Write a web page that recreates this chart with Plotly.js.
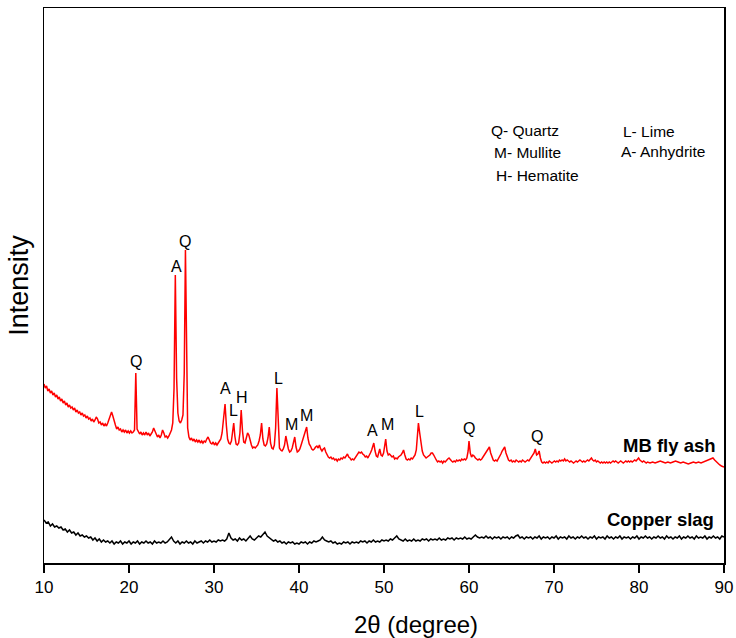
<!DOCTYPE html>
<html>
<head>
<meta charset="utf-8">
<script src="https://cdn.plot.ly/plotly-3.0.1.min.js"></script>
<style>html,body{margin:0;padding:0;background:#fff;}#chart{width:736px;height:638px;}</style>
</head>
<body>
<div id="chart"></div>
<script>
// MB fly ash pattern (2theta in degrees, intensity in arbitrary units)
var ashX = [
10.0,10.15,10.3,10.45,10.6,10.75,10.9,11.05,11.2,11.35,
11.5,11.65,11.8,11.95,12.1,12.25,12.4,12.55,12.7,12.85,
13.0,13.15,13.3,13.45,13.6,13.75,13.9,14.05,14.2,14.35,
14.5,14.65,14.8,14.95,15.1,15.25,15.4,15.55,15.7,15.85,
16.0,16.15,16.3,16.45,16.6,16.75,16.9,17.05,17.2,17.35,
17.5,17.65,17.8,17.95,18.1,18.25,18.4,18.55,18.7,18.85,
19.0,19.15,19.3,19.45,19.6,19.75,19.9,20.05,20.2,20.35,
20.5,20.65,20.8,20.95,21.1,21.25,21.4,21.55,21.7,21.85,
22.0,22.15,22.3,22.45,22.6,22.75,22.9,23.05,23.2,23.35,
23.5,23.65,23.8,23.95,24.1,24.25,24.4,24.55,24.7,24.85,
25.0,25.15,25.3,25.45,25.6,25.75,25.9,26.05,26.2,26.35,
26.5,26.64,26.78,26.9,27.05,27.2,27.35,27.5,27.65,27.8,
27.95,28.1,28.25,28.4,28.55,28.7,28.85,29.0,29.15,29.3,
29.45,29.6,29.75,29.9,30.05,30.2,30.35,30.5,30.65,30.8,
30.95,31.1,31.3,31.45,31.6,31.75,31.9,32.05,32.2,32.32,
32.45,32.6,32.75,32.9,33.05,33.2,33.35,33.5,33.65,33.8,
33.95,34.1,34.25,34.4,34.55,34.7,34.85,35.0,35.15,35.3,
35.45,35.6,35.75,35.9,36.05,36.2,36.35,36.5,36.65,36.8,
36.95,37.1,37.25,37.4,37.55,37.7,37.85,38.0,38.15,38.3,
38.45,38.6,38.75,38.9,39.05,39.2,39.35,39.5,39.65,39.8,
39.95,40.1,40.25,40.4,40.55,40.7,40.9,41.05,41.2,41.35,
41.5,41.65,41.8,41.95,42.1,42.25,42.4,42.55,42.7,42.85,
43.0,43.15,43.3,43.45,43.6,43.75,43.9,44.05,44.2,44.35,
44.5,44.65,44.8,44.95,45.1,45.25,45.4,45.55,45.7,45.85,
46.0,46.15,46.3,46.45,46.6,46.75,46.9,47.05,47.2,47.35,
47.5,47.65,47.8,47.95,48.1,48.25,48.4,48.55,48.7,48.8,
48.95,49.1,49.25,49.4,49.5,49.65,49.8,49.95,50.1,50.2,
50.35,50.5,50.65,50.8,50.95,51.1,51.25,51.4,51.55,51.7,
51.85,52.0,52.15,52.3,52.45,52.6,52.75,52.9,53.05,53.2,
53.35,53.5,53.65,53.8,53.95,54.05,54.2,54.35,54.5,54.65,
54.8,54.95,55.1,55.25,55.4,55.55,55.7,55.85,56.0,56.15,
56.3,56.45,56.6,56.75,56.9,57.05,57.2,57.35,57.5,57.65,
57.8,57.95,58.1,58.25,58.4,58.55,58.7,58.85,59.0,59.15,
59.3,59.45,59.6,59.75,59.9,60.0,60.15,60.3,60.45,60.6,
60.75,60.9,61.05,61.2,61.35,61.5,61.65,61.8,61.95,62.1,
62.25,62.4,62.55,62.7,62.85,63.0,63.15,63.3,63.45,63.6,
63.75,63.9,64.05,64.2,64.35,64.5,64.65,64.8,64.95,65.1,
65.25,65.4,65.55,65.7,65.85,66.0,66.15,66.3,66.45,66.6,
66.75,66.9,67.05,67.2,67.35,67.5,67.65,67.8,67.95,68.1,
68.25,68.4,68.55,68.7,68.85,69.0,69.15,69.3,69.45,69.6,
69.75,69.9,70.05,70.2,70.35,70.5,70.65,70.8,70.95,71.1,
71.25,71.4,71.55,71.7,71.85,72.0,72.15,72.3,72.45,72.6,
72.75,72.9,73.05,73.2,73.35,73.5,73.65,73.8,73.95,74.1,
74.25,74.4,74.55,74.7,74.85,75.0,75.15,75.3,75.45,75.6,
75.75,75.9,76.05,76.2,76.35,76.5,76.65,76.8,76.95,77.1,
77.25,77.4,77.55,77.7,77.85,78.0,78.15,78.3,78.45,78.6,
78.75,78.9,79.05,79.2,79.35,79.5,79.65,79.8,79.95,80.1,
80.25,80.4,80.55,80.7,80.85,81.0,81.3,81.6,81.9,82.2,
82.5,82.8,83.1,83.4,83.7,84.0,84.3,84.6,84.9,85.2,
85.5,85.8,86.1,86.4,86.7,87.0,87.3,87.6,87.9,88.2,
88.5,88.7,88.9,89.1,89.3,89.5,89.7,90.0
];
var ashY = [
179,175,177,172,174,170,172,168,170,166,
168,164,166,162,164,160,162,158,160,156,
158,155,156,153,155,151,153,150,151,148,
150,147,148,145,147,144,145,142,144,141,
143,146,144,140,141,138,140,137,139,137,
140,144,148,151,147,141,138,134,136,133,
134,131,133,131,133,130,132,130,132,130,
131,133,190,134,131,129,131,128,130,128,
131,128,130,127,129,131,135,132,128,126,
128,125,128,133,130,126,127,125,127,130,
133,140,175,288,185,150,142,140,143,148,
190,313,180,135,126,123,125,122,124,121,
123,121,123,120,122,120,122,121,124,126,
123,120,119,121,118,120,118,120,122,124,
130,140,159,138,124,120,119,122,130,140,
127,119,118,120,130,153,132,121,120,124,
130,128,122,118,115,116,115,117,118,122,
128,140,124,118,117,119,125,136,120,115,
114,118,135,175,135,115,113,112,114,118,
127,120,114,111,112,115,120,126,116,111,
112,114,118,122,126,130,136,125,119,117,
114,113,114,116,117,115,118,114,112,114,
115,111,108,106,105,106,104,105,103,104,
102,104,103,105,104,106,105,107,109,106,
105,103,104,103,105,107,109,111,110,111,
109,108,106,107,105,107,110,113,119,120,
112,107,106,110,114,108,107,110,118,124,
112,108,109,107,106,107,104,105,104,106,
107,108,110,113,108,104,103,104,103,105,
104,106,108,113,128,140,130,118,112,108,
106,105,106,107,108,110,110,108,105,103,
101,102,101,102,100,102,101,103,104,105,
103,102,101,102,101,103,102,103,102,104,
103,104,103,105,112,122,110,106,108,107,
105,104,103,104,103,104,106,107,110,112,
114,116,110,105,103,102,103,102,104,106,
109,112,114,116,110,105,103,102,103,101,
102,101,103,102,101,102,101,103,102,101,
102,103,102,104,105,107,110,114,108,109,
112,105,101,100,101,100,101,100,102,101,
100,101,102,101,102,101,103,102,103,102,
104,102,103,102,101,102,101,100,101,102,
101,102,103,102,101,102,101,102,103,102,
104,105,103,102,103,101,102,101,100,101,
100,101,100,101,100,101,100,101,102,101,
102,101,100,101,102,101,100,101,102,101,
102,101,102,101,102,103,102,104,105,103,
102,101,102,101,100,101,100,101,100,101,
102,101,100,101,100,101,102,101,100,101,
100,99,100,101,100,101,100,101,102,103,
104,105,103,101,99,98,97,96
];
// Copper slag pattern
var slagX = [
10,10.25,10.5,10.75,11,11.25,11.5,11.75,12,12.25,
12.5,12.75,13,13.25,13.5,13.75,14,14.25,14.5,14.75,
15,15.25,15.5,15.75,16,16.25,16.5,16.75,17,17.25,
17.5,17.75,18,18.25,18.5,18.75,19,19.25,19.5,19.75,
20,20.25,20.5,20.75,21,21.25,21.5,21.75,22,22.25,
22.5,22.75,23,23.25,23.5,23.75,24,24.25,24.5,24.75,
25,25.25,25.5,25.75,26,26.25,26.5,26.75,27,27.25,
27.5,27.75,28,28.25,28.5,28.75,29,29.25,29.5,29.75,
30,30.25,30.5,30.75,31,31.25,31.5,31.75,32,32.25,
32.5,32.75,33,33.25,33.5,33.75,34,34.25,34.5,34.75,
35,35.25,35.5,35.75,36,36.25,36.5,36.75,37,37.25,
37.5,37.75,38,38.25,38.5,38.75,39,39.25,39.5,39.75,
40,40.25,40.5,40.75,41,41.25,41.5,41.75,42,42.25,
42.5,42.75,43,43.25,43.5,43.75,44,44.25,44.5,44.75,
45,45.25,45.5,45.75,46,46.25,46.5,46.75,47,47.25,
47.5,47.75,48,48.25,48.5,48.75,49,49.25,49.5,49.75,
50,50.25,50.5,50.75,51,51.25,51.5,51.75,52,52.25,
52.5,52.75,53,53.25,53.5,53.75,54,54.25,54.5,54.75,
55,55.25,55.5,55.75,56,56.25,56.5,56.75,57,57.25,
57.5,57.75,58,58.25,58.5,58.75,59,59.25,59.5,59.75,
60,60.25,60.5,60.75,61,61.25,61.5,61.75,62,62.25,
62.5,62.75,63,63.25,63.5,63.75,64,64.25,64.5,64.75,
65,65.25,65.5,65.75,66,66.25,66.5,66.75,67,67.25,
67.5,67.75,68,68.25,68.5,68.75,69,69.25,69.5,69.75,
70,70.25,70.5,70.75,71,71.25,71.5,71.75,72,72.25,
72.5,72.75,73,73.25,73.5,73.75,74,74.25,74.5,74.75,
75,75.25,75.5,75.75,76,76.25,76.5,76.75,77,77.25,
77.5,77.75,78,78.25,78.5,78.75,79,79.25,79.5,79.75,
80,80.25,80.5,80.75,81,81.25,81.5,81.75,82,82.25,
82.5,82.75,83,83.25,83.5,83.75,84,84.25,84.5,84.75,
85,85.25,85.5,85.75,86,86.25,86.5,86.75,87,87.25,
87.5,87.75,88,88.25,88.5,88.75,89,89.25,89.5,89.75,
90
];
var slagY = [
43,40,41,37,39,36,37,35,36,33,
34,31,33,30,31,28,30,27,28,26,
27,25,26,23,25,22,24,21,23,21,
22,20,22,19,21,20,22,19,21,20,
22,19,21,20,22,19,21,20,22,20,
21,19,22,20,21,20,22,20,21,23,
26,22,20,22,19,21,20,22,20,21,
19,22,20,21,22,20,22,21,23,21,
22,21,23,22,23,22,24,30,25,23,
24,22,25,23,24,22,25,27,24,23,
25,27,26,29,31,27,25,24,22,23,
21,22,20,21,19,21,20,21,19,20,
19,21,20,21,19,21,20,22,21,22,
23,26,23,22,21,22,20,21,19,20,
19,21,20,21,19,21,20,21,20,22,
21,22,20,22,21,23,21,22,21,23,
22,23,22,24,23,25,27,24,23,22,
24,22,23,22,24,22,23,22,24,23,
24,22,24,23,24,23,25,23,24,23,
25,24,25,23,25,24,25,24,26,24,
25,24,26,28,26,25,26,25,27,25,
26,24,26,25,26,24,26,25,26,24,
26,25,27,28,25,26,24,26,25,26,
24,26,25,27,24,26,25,26,24,26,
25,27,24,26,25,26,24,27,25,26,
24,26,25,27,25,26,24,26,25,27,
24,26,25,26,24,27,25,26,24,26,
25,27,24,26,25,26,24,26,25,27,
24,26,25,27,25,26,24,26,25,27,
25,26,24,27,25,26,24,26,25,27,
24,26,25,27,25,26,24,27,25,26,
25,27,24,26,25,27,25,26,24,27,
26
];
// Peak labels: phase letter, 2theta position, label height
var peakText = ["Q","A","Q","A","L","H","L","M","M","A","M","L","Q","Q"];
var peakPos  = [20.85,25.55,26.6,31.4,32.25,33.3,37.55,39.1,40.85,48.65,50.4,54.15,60.05,67.95];
var peakLab  = [202,297,322,175,153,166,185,139,148,133,139,152,135,127];
// Phase key
var keyText = ["Q- Quartz","M- Mullite","H- Hematite","L- Lime","A- Anhydrite"];
var keyX = [0.655,0.659,0.662,0.849,0.846];
var keyY = [0.780,0.739,0.699,0.778,0.742];
// Series names and axis titles
var seriesNames = ["MB fly ash","Copper slag"];
var xTitle = "2θ (degree)";
var yTitle = "Intensity";

var FONT = "Arial, 'Liberation Sans', Helvetica, sans-serif";

var traces = [
  {x: ashX, y: ashY, type: "scatter", mode: "lines", name: seriesNames[0],
   line: {color: "#ff0000", width: 1.5}},
  {x: slagX, y: slagY, type: "scatter", mode: "lines", name: seriesNames[1],
   line: {color: "#000000", width: 1.5}}
];

var ann = [];
for (var i = 0; i < peakText.length; i++) {
  ann.push({x: peakPos[i], y: peakLab[i], xref: "x", yref: "y", text: peakText[i],
    showarrow: false, xanchor: "center", yanchor: "middle",
    font: {family: FONT, size: 16, color: "#000"}});
}
for (var j = 0; j < keyText.length; j++) {
  ann.push({x: keyX[j], y: keyY[j], xref: "paper", yref: "paper", text: keyText[j],
    showarrow: false, xanchor: "left", yanchor: "middle",
    font: {family: FONT, size: 15.5, color: "#000"}});
}
ann.push({x: 0.991, y: 0.211, xref: "paper", yref: "paper", text: "<b>" + seriesNames[0] + "</b>",
  showarrow: false, xanchor: "right", yanchor: "middle", font: {family: FONT, size: 18.5, color: "#000"}});
ann.push({x: 0.988, y: 0.0775, xref: "paper", yref: "paper", text: "<b>" + seriesNames[1] + "</b>",
  showarrow: false, xanchor: "right", yanchor: "middle", font: {family: FONT, size: 18.5, color: "#000"}});
// x axis title (placed off-centre, as in the original figure)
ann.push({x: 0.547, y: -0.11, xref: "paper", yref: "paper", text: xTitle,
  showarrow: false, xanchor: "center", yanchor: "middle", font: {family: FONT, size: 24, color: "#000"}});

var layout = {
  width: 736, height: 638,
  margin: {l: 44, r: 12, t: 8, b: 75},
  paper_bgcolor: "#fff", plot_bgcolor: "#fff",
  showlegend: false,
  font: {family: FONT, color: "#000"},
  xaxis: {
    range: [10, 90], dtick: 10, tick0: 10,
    showgrid: false, zeroline: false,
    showline: true, linecolor: "#000", linewidth: 1.5, mirror: true,
    ticks: "outside", ticklen: 8, tickwidth: 1.5, tickcolor: "#000",
    tickfont: {family: FONT, size: 17, color: "#000"}
  },
  yaxis: {
    range: [0, 555],
    showgrid: false, zeroline: false, showticklabels: false, ticks: "",
    showline: true, linecolor: "#000", linewidth: 1.5, mirror: true,
    title: {text: yTitle, font: {family: FONT, size: 27, color: "#000"}, standoff: 6}
  },
  annotations: ann
};

Plotly.newPlot("chart", traces, layout, {displayModeBar: false, staticPlot: true});
</script>
</body>
</html>
